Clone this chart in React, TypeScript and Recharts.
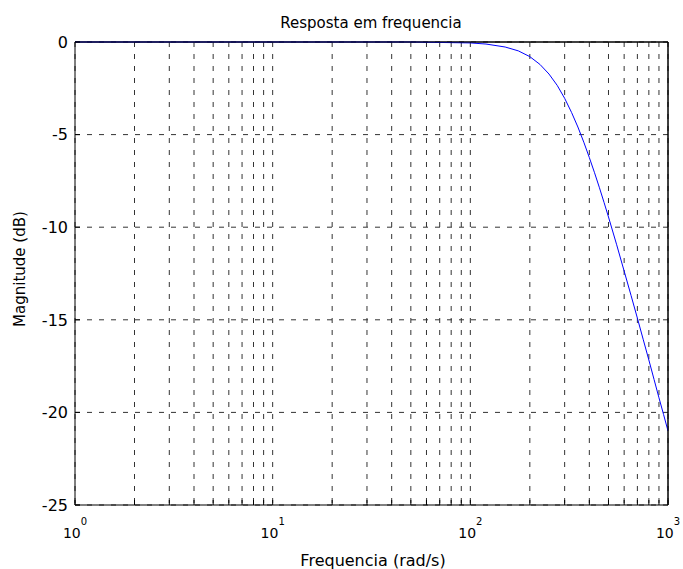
import React from "react";
import {
  LineChart,
  Line,
  XAxis,
  YAxis,
  CartesianGrid,
  ReferenceLine,
} from "recharts";

// frequency response (rad/s -> dB)
const FREQ = [
  1, 10, 50, 100, 120, 150, 175, 200, 225, 250, 275, 300, 325, 350, 375, 400,
  425, 450, 475, 500, 550, 600, 650, 700, 750, 800, 850, 900, 950, 1000,
];
const MAG = [
  0, 0, 0, -0.05, -0.11, -0.27, -0.48, -0.79, -1.21, -1.73, -2.34, -3.04,
  -3.8, -4.59, -5.41, -6.24, -7.06, -7.87, -8.67, -9.45, -10.95, -12.37,
  -13.68, -14.91, -16.08, -17.17, -18.22, -19.21, -20.12, -21.0,
];

const X_TICKS = [
  1, 2, 3, 4, 5, 6, 7, 8, 9, 10, 20, 30, 40, 50, 60, 70, 80, 90, 100, 200,
  300, 400, 500, 600, 700, 800, 900, 1000,
];
const X_LABELED = [1, 10, 100, 1000];
const Y_TICKS = [-25, -20, -15, -10, -5, 0];

const data = FREQ.map((f, i) => ({ w: f, mag: MAG[i] }));

const FONT = "'DejaVu Sans', sans-serif";
const PLOT_LEFT = 67;
const PLOT_BOTTOM = 497;

const XTick = (props: any) => {
  const v = props.payload.value;
  if (!X_LABELED.includes(v)) return <g />;
  const exp = Math.round(Math.log10(v));
  return (
    <text
      x={props.payload.coordinate}
      y={PLOT_BOTTOM + 33}
      textAnchor='middle'
      fontFamily={FONT}
      fontSize={14}
      fill='#000'
    >
      10
      <tspan dy={-13} fontSize={10}>
        {exp}
      </tspan>
    </text>
  );
};

const YTick = (props: any) => (
  <text
    x={PLOT_LEFT - 7}
    y={props.payload.coordinate}
    dy='0.36em'
    textAnchor='end'
    fontFamily={FONT}
    fontSize={16}
    fill='#000'
  >
    {props.payload.value}
  </text>
);

export default function App() {
  return (
    <div
      style={{
        position: "absolute",
        left: 8,
        top: 8,
        width: 675,
        height: 561,
        background: "#fff",
      }}
    >
      <LineChart
        width={675}
        height={561}
        data={data}
        margin={{ top: 33, right: 14, left: 0, bottom: 0 }}
      >
        <CartesianGrid stroke='#333' strokeDasharray='5 7' />
        <XAxis
          dataKey='w'
          type='number'
          scale='log'
          domain={[1, 1000]}
          ticks={X_TICKS}
          interval={0}
          allowDataOverflow
          height={64}
          tickSize={-5}
          axisLine={{ stroke: "#000" }}
          tickLine={{ stroke: "#000" }}
          tick={<XTick />}
        />
        <XAxis
          xAxisId='top'
          orientation='top'
          dataKey='w'
          type='number'
          scale='log'
          domain={[1, 1000]}
          ticks={X_TICKS}
          interval={0}
          allowDataOverflow
          height={1}
          tickSize={-5}
          axisLine={{ stroke: "#000" }}
          tickLine={{ stroke: "#000" }}
          tick={false}
        />
        <YAxis
          type='number'
          domain={[-25, 0]}
          ticks={Y_TICKS}
          interval={0}
          width={67}
          tickSize={-5}
          axisLine={{ stroke: "#000" }}
          tickLine={{ stroke: "#000" }}
          tick={<YTick />}
        />
        <YAxis
          yAxisId='right'
          orientation='right'
          type='number'
          domain={[-25, 0]}
          ticks={Y_TICKS}
          interval={0}
          width={1}
          tickSize={-5}
          axisLine={{ stroke: "#000" }}
          tickLine={{ stroke: "#000" }}
          tick={false}
        />
        <ReferenceLine x={1000} stroke='#000' strokeWidth={1} />
        <ReferenceLine y={0} stroke='#000' strokeWidth={1} />
        <Line
          type='linear'
          dataKey='mag'
          stroke='#0000ff'
          strokeWidth={1}
          dot={false}
          isAnimationActive={false}
        />
        <text
          x={363}
          y={20}
          textAnchor='middle'
          fontFamily={FONT}
          fontSize={15}
          fill='#000'
        >
          Resposta em frequencia
        </text>
        <text
          x={365}
          y={558}
          textAnchor='middle'
          fontFamily={FONT}
          fontSize={16}
          fill='#000'
        >
          Frequencia (rad/s)
        </text>
        <text
          x={17}
          y={261}
          textAnchor='middle'
          fontFamily={FONT}
          fontSize={15}
          fill='#000'
          transform='rotate(-90, 17, 261)'
        >
          Magnitude (dB)
        </text>
      </LineChart>
    </div>
  );
}
